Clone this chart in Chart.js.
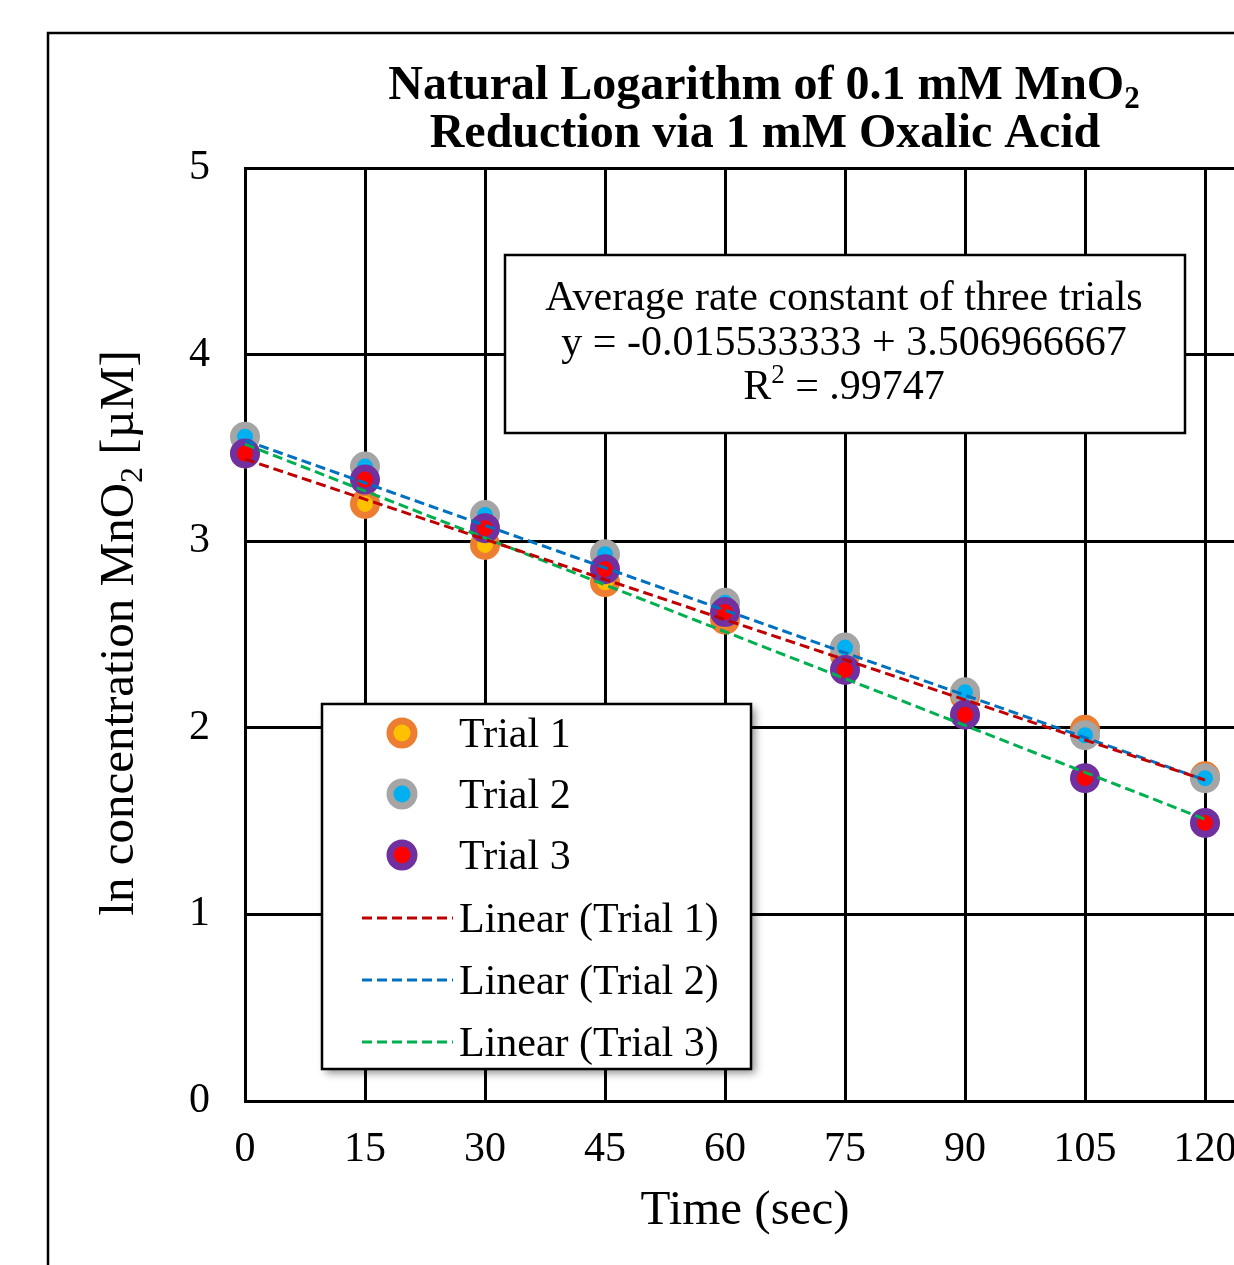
<!DOCTYPE html>
<html>
<head>
<meta charset="utf-8">
<script src="https://cdn.jsdelivr.net/npm/chart.js@4.4.1/dist/chart.umd.min.js"></script>
<style>
  html, body { margin: 0; padding: 0; background: #fff; }
  canvas { display: block; }
</style>
</head>
<body>
<canvas id="grafica" width="1234" height="1265"></canvas>
<script>
/**************************************
 * DATOS
 **************************************/
const tiempos = [0, 15, 30, 45, 60, 75, 90, 105, 120];
const ensayo1 = [3.47, 3.20, 2.98, 2.78, 2.58, 2.39, 2.17, 1.99, 1.74];
const ensayo2 = [3.56, 3.40, 3.14, 2.93, 2.67, 2.43, 2.19, 1.96, 1.73];
const ensayo3 = [3.47, 3.33, 3.07, 2.85, 2.62, 2.31, 2.07, 1.73, 1.49];

// extremos de las lineas de tendencia (x = 0 y x = 120)
const tendenciaX = [0, 120];
const tendencia1 = [3.44, 1.72];
const tendencia2 = [3.54, 1.72];
const tendencia3 = [3.52, 1.51];

const ticksX = [0, 15, 30, 45, 60, 75, 90, 105, 120];
const ticksY = [0, 1, 2, 3, 4, 5];

const nombres = ["Trial 1", "Trial 2", "Trial 3"];
const nombresTendencia = ["Linear (Trial 1)", "Linear (Trial 2)", "Linear (Trial 3)"];

const SERIF = '"Liberation Serif", "Times New Roman", serif';

// colores estilo Excel
const relleno = ["#FFC000", "#00B0F0", "#FF0000"];
const borde = ["#ED7D31", "#A5A5A5", "#7030A0"];
const colorTendencia = ["#C00000", "#0070C0", "#00B050"];

function puntos(xs, ys) {
    return xs.map((x, i) => ({ x: x, y: ys[i] }));
}

// texto con subindices / superindices
function textoRico(ctx, partes, x, y, align) {
    let ancho = 0;
    partes.forEach(p => {
        ctx.font = p.font;
        p.w = ctx.measureText(p.t).width;
        ancho += p.w;
    });
    let xi = x;
    if (align === "center") xi = x - ancho / 2;
    if (align === "right") xi = x - ancho;
    ctx.textAlign = "left";
    ctx.textBaseline = "alphabetic";
    partes.forEach(p => {
        ctx.font = p.font;
        ctx.fillText(p.t, xi, y + (p.dy || 0));
        xi += p.w;
    });
}

/**************************************
 * PLUGIN: titulo, ejes, cuadro y leyenda
 **************************************/
const decoracion = {
    id: "decoracion",
    beforeDraw(chart) {
        const ctx = chart.ctx;
        ctx.save();
        ctx.fillStyle = "#fff";
        ctx.fillRect(0, 0, chart.width, chart.height);
        ctx.strokeStyle = "#000";
        ctx.lineWidth = 2.5;
        ctx.strokeRect(48, 33, 1400, 1400);
        ctx.restore();
    },
    afterDraw(chart) {
        const ctx = chart.ctx;
        ctx.save();
        ctx.fillStyle = "#000";

        // titulo
        const fT = "bold 48px " + SERIF;
        const fTs = "bold 31px " + SERIF;
        textoRico(ctx, [
            { t: "Natural Logarithm of 0.1 mM MnO", font: fT },
            { t: "2", font: fTs, dy: 9 }
        ], 764, 99, "center");
        textoRico(ctx, [{ t: "Reduction via 1 mM Oxalic Acid", font: fT }], 765, 147, "center");

        // titulo eje x
        textoRico(ctx, [{ t: "Time (sec)", font: "49px " + SERIF }], 745, 1224, "center");

        // titulo eje y (rotado)
        ctx.save();
        ctx.translate(133, 633);
        ctx.rotate(-Math.PI / 2);
        textoRico(ctx, [
            { t: "ln concentration MnO", font: "49px " + SERIF },
            { t: "2", font: "32px " + SERIF, dy: 9 },
            { t: " [\u00B5M]", font: "49px " + SERIF }
        ], 0, 0, "center");
        ctx.restore();

        // cuadro de la constante promedio
        ctx.fillStyle = "#fff";
        ctx.fillRect(505, 255, 680, 178);
        ctx.strokeStyle = "#000";
        ctx.lineWidth = 2.5;
        ctx.strokeRect(505, 255, 680, 178);
        ctx.fillStyle = "#000";
        const fA = "42px " + SERIF;
        textoRico(ctx, [{ t: "Average rate constant of three trials", font: fA }], 844, 310, "center");
        textoRico(ctx, [{ t: "y = -0.015533333 + 3.506966667", font: fA }], 844, 355, "center");
        textoRico(ctx, [
            { t: "R", font: fA },
            { t: "2", font: "27px " + SERIF, dy: -16 },
            { t: " = .99747", font: fA }
        ], 844, 399, "center");

        // leyenda
        const lx = 322, ly = 704, lw = 429, lh = 365;
        ctx.save();
        ctx.shadowColor = "rgba(0,0,0,0.45)";
        ctx.shadowBlur = 8;
        ctx.shadowOffsetX = 4;
        ctx.shadowOffsetY = 4;
        ctx.fillStyle = "#fff";
        ctx.fillRect(lx, ly, lw, lh);
        ctx.restore();
        ctx.strokeStyle = "#000";
        ctx.lineWidth = 2.5;
        ctx.strokeRect(lx, ly, lw, lh);

        const fL = "42px " + SERIF;
        for (let i = 0; i < 3; i++) {
            const cy = 733 + i * 61;
            ctx.beginPath();
            ctx.arc(402, cy, 12, 0, Math.PI * 2);
            ctx.fillStyle = relleno[i];
            ctx.fill();
            ctx.lineWidth = 7;
            ctx.strokeStyle = borde[i];
            ctx.stroke();
            ctx.fillStyle = "#000";
            textoRico(ctx, [{ t: nombres[i], font: fL }], 459, cy + 14, "left");
        }
        for (let i = 0; i < 3; i++) {
            const cy = 918 + i * 62;
            ctx.beginPath();
            ctx.setLineDash([10, 5]);
            ctx.lineWidth = 3;
            ctx.strokeStyle = colorTendencia[i];
            ctx.moveTo(362, cy);
            ctx.lineTo(453, cy);
            ctx.stroke();
            ctx.setLineDash([]);
            ctx.fillStyle = "#000";
            textoRico(ctx, [{ t: nombresTendencia[i], font: fL }], 459, cy + 14, "left");
        }
        ctx.restore();
    }
};

/**************************************
 * GRAFICA
 **************************************/
const seriesPuntos = [ensayo1, ensayo2, ensayo3].map((ys, i) => ({
    label: nombres[i],
    data: puntos(tiempos, ys),
    showLine: false,
    pointRadius: 11.5,
    pointHoverRadius: 11.5,
    pointBorderWidth: 7,
    pointBackgroundColor: relleno[i],
    pointBorderColor: borde[i],
    order: 3 - i,
    clip: false
}));

const seriesTendencia = [tendencia1, tendencia2, tendencia3].map((ys, i) => ({
    label: nombresTendencia[i],
    data: puntos(tendenciaX, ys),
    showLine: true,
    pointRadius: 0,
    borderColor: colorTendencia[i],
    borderWidth: 3,
    borderDash: [10, 5],
    order: 0,
    clip: false
}));

new Chart(document.getElementById("grafica"), {
    type: "scatter",
    data: { datasets: seriesPuntos.concat(seriesTendencia) },
    options: {
        responsive: false,
        animation: false,
        events: [],
        // sin autoPadding: los puntos grandes reservaban margen a la derecha
        layout: { autoPadding: false, padding: { top: 168, right: 0, bottom: 0, left: 0 } },
        plugins: {
            legend: { display: false },
            tooltip: { enabled: false },
            title: { display: false }
        },
        scales: {
            x: {
                type: "linear",
                min: 0,
                max: 123.625,
                afterBuildTicks: s => { s.ticks = ticksX.map(v => ({ value: v })); },
                afterFit: s => { s.height = 164; s.paddingLeft = 0; s.paddingRight = 0; },
                grid: { color: "#000", lineWidth: 3, drawTicks: false },
                border: { color: "#000", width: 3 },
                ticks: {
                    color: "#000",
                    font: { family: SERIF, size: 42 },
                    padding: 24,
                    maxRotation: 0,
                    autoSkip: false
                }
            },
            y: {
                min: 0,
                max: 5,
                afterBuildTicks: s => { s.ticks = ticksY.map(v => ({ value: v })); },
                afterFit: s => { s.width = 245; },
                grid: { color: "#000", lineWidth: 3, drawTicks: false },
                border: { color: "#000", width: 3 },
                ticks: {
                    color: "#000",
                    font: { family: SERIF, size: 42 },
                    padding: 35
                }
            }
        }
    },
    plugins: [decoracion]
});
</script>
</body>
</html>
